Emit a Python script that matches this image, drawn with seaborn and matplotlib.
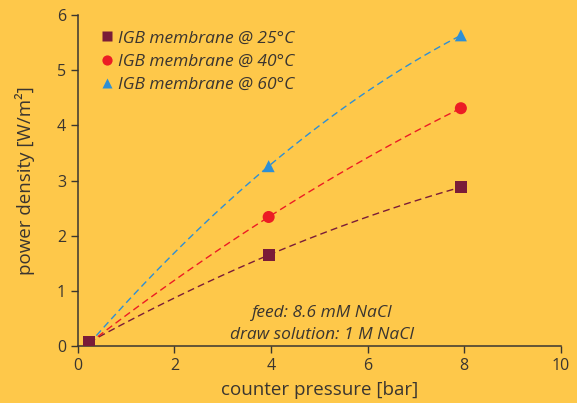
import numpy as np
import pandas as pd
import matplotlib
matplotlib.use("Agg")
import matplotlib.pyplot as plt
import seaborn as sns

# ── data ───────────────────────────────────────────────────────────────────
pressure = [0.23, 3.95, 7.93]
pd_25 = [0.07, 1.65, 2.88]
pd_40 = [0.05, 2.34, 4.31]
pd_60 = [0.04, 3.26, 5.63]
labels = ["IGB membrane @ 25°C", "IGB membrane @ 40°C", "IGB membrane @ 60°C"]

colors = ["#7A1C38", "#EC1C24", "#2E8FD4"]
markers = ["s", "o", "^"]
BG = "#FEC84A"
INK = "#3A3530"

# 25°C rows last so its squares sit on top at the first point
df = pd.DataFrame({
    "pressure": pressure * 3,
    "density": pd_60 + pd_40 + pd_25,
    "series": [l for l in labels[::-1] for _ in pressure],
})

sns.set_style("ticks")
plt.rcParams["font.family"] = ["Open Sans", "DejaVu Sans"]

fig = plt.figure(figsize=(5.77, 4.03), dpi=100, facecolor=BG)
ax = fig.add_axes([0.135, 0.141, 0.837, 0.822])
ax.set_facecolor(BG)

# quadratic trend curves through each series
for vals, c in zip([pd_25, pd_40, pd_60], colors):
    coef = np.polyfit(pressure, vals, 2)
    xs = np.linspace(pressure[0], pressure[-1], 100)
    ax.plot(xs, np.polyval(coef, xs), ls=(0, (5, 3)), lw=1.0, color=c, zorder=2)

sns.scatterplot(data=df, x="pressure", y="density", hue="series", style="series",
                hue_order=labels, style_order=labels,
                palette=colors, markers=markers, s=75, edgecolor="none",
                ax=ax, zorder=3)

ax.set_xlim(0, 10)
ax.set_ylim(0, 6)
ax.set_xticks(range(0, 11, 2))
ax.set_yticks(range(0, 7))
ax.set_xlabel("counter pressure [bar]", fontsize=13.5, color=INK, labelpad=5)
ax.set_ylabel("power density [W/m²]", fontsize=13.5, color=INK, labelpad=16)
ax.tick_params(labelsize=11.5, colors=INK, direction="out", length=5, width=1)
for s in ["top", "right"]:
    ax.spines[s].set_visible(False)
for s in ["left", "bottom"]:
    ax.spines[s].set_color(INK)
    ax.spines[s].set_linewidth(1.1)

leg = ax.legend(loc="upper left", frameon=False, fontsize=12.5, handletextpad=0.0,
                handlelength=1.3, borderaxespad=0.3, labelspacing=0.4,
                bbox_to_anchor=(0.012, 0.99), markerscale=0.85)
for t in leg.get_texts():
    t.set_fontstyle("italic")
    t.set_color(INK)

ax.text(5.05, 0.6, "feed: 8.6 mM NaCl", style="italic", fontsize=12.5,
        ha="center", va="center", color=INK)
ax.text(5.05, 0.2, "draw solution: 1 M NaCl", style="italic", fontsize=12.5,
        ha="center", va="center", color=INK)

fig.savefig("out.png", dpi=100, facecolor=BG)
